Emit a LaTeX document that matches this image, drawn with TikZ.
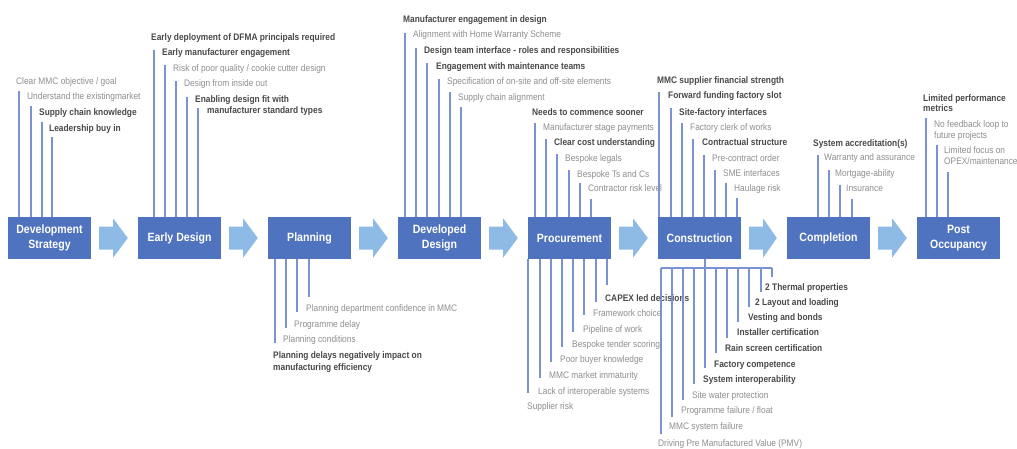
\documentclass[tikz,border=0pt]{standalone}
\usepackage{fontspec}
\setmainfont{Liberation Sans}[FakeStretch=0.88]
\usetikzlibrary{calc}
\definecolor{boxblue}{HTML}{4F73BF}
\definecolor{arrblue}{HTML}{8EBBE6}
\definecolor{lnblue}{HTML}{7B92D2}
\definecolor{txtdark}{HTML}{4A4A4A}
\definecolor{txtlight}{HTML}{8F8F8F}
\newcommand\upit[7]{\node[#6] (#1t#2) at (#4,#5+3.2) {#7}; \draw[ln] (#2,0 |- #1.north) -- (#2,#3);}
\newcommand\dnit[7]{\node[#6] (#1d#2) at (#4,#5+3.2) {#7}; \draw[ln] (#2,0 |- #1.south) -- (#2,#3);}
\newcommand\cbit[6]{\node[#5] (cb#1) at (#3,#4+3.2) {#6}; \draw[ln] (#1,0 |- barL) -- (#1,#2);}
\begin{document}
\begin{tikzpicture}[x=1pt,y=-1pt,
 box/.style={fill=boxblue, text=white, font=\fontsize{12}{15.5}\selectfont\bfseries, minimum width=83pt, minimum height=42pt, inner sep=0pt, align=center},
 arr/.style={fill=arrblue},
 ln/.style={draw=lnblue, line width=1.1pt},
 bt/.style={font=\fontsize{9.5}{11}\selectfont\bfseries, text=txtdark, inner sep=0pt, anchor=base west},
 rt/.style={font=\fontsize{9.5}{11}\selectfont, text=txtlight, inner sep=0pt, anchor=base west}]
\useasboundingbox[fill=white] (0,0) rectangle (1017,448);

% boxes
\node[box] (b1) at (49.5,238) {Development\\Strategy};
\node[box] (b2) at (179.5,238) {Early Design};
\node[box] (b3) at (309.5,238) {Planning};
\node[box] (b4) at (439.5,238) {Developed\\Design};
\node[box] (b5) at (569.5,238) {Procurement};
\node[box] (b6) at (699.5,238) {Construction};
\node[box] (b7) at (828.5,238) {Completion};
\node[box] (b8) at (958.5,238) {Post\\Occupancy};

% arrows
\foreach \a/\b in {b1/b2,b2/b3,b3/b4,b4/b5,b5/b6,b6/b7,b7/b8}{
 \fill[arr] ([xshift=8pt,yshift=11.5pt]\a.east) -- ([xshift=22pt,yshift=11.5pt]\a.east)
  -- ([xshift=22pt,yshift=19.5pt]\a.east) -- ([xshift=-10pt]\b.west)
  -- ([xshift=22pt,yshift=-19.5pt]\a.east) -- ([xshift=22pt,yshift=-11.5pt]\a.east)
  -- ([xshift=8pt,yshift=-11.5pt]\a.east) -- cycle;
}

% Development Strategy
\upit{b1}{19}{91}{16}{81}{rt}{Clear MMC objective / goal}
\upit{b1}{31}{106}{27}{96}{rt}{Understand the existingmarket}
\upit{b1}{42}{122}{39}{112}{bt}{Supply chain knowledge}
\upit{b1}{52}{137}{49}{128}{bt}{Leadership buy in}

% Early Design
\upit{b2}{154}{50}{151}{37}{bt}{Early deployment of DFMA principals required}
\upit{b2}{165}{65}{162}{52}{bt}{Early manufacturer engagement}
\upit{b2}{176}{81}{173}{68}{rt}{Risk of poor quality / cookie cutter design}
\upit{b2}{187}{97}{184}{83}{rt}{Design from inside out}
\upit{b2}{198}{108}{195}{99}{bt}{Enabling design fit with}
\node[bt] (b2t198b) at (207,110+3.2) {manufacturer standard types};

% Developed Design
\upit{b4}{405}{33}{403}{19}{bt}{Manufacturer engagement in design}
\upit{b4}{416}{48}{413}{34}{rt}{Alignment with Home Warranty Scheme}
\upit{b4}{427}{63}{424}{50}{bt}{Design team interface - roles and responsibilities}
\upit{b4}{439}{79}{436}{66}{bt}{Engagement with maintenance teams}
\upit{b4}{450}{92}{447}{81}{rt}{Specification of on-site and off-site elements}
\upit{b4}{461}{107}{458}{97}{rt}{Supply chain alignment}

% Procurement top
\upit{b5}{535}{123}{532}{112}{bt}{Needs to commence sooner}
\upit{b5}{546}{139}{543}{127}{rt}{Manufacturer stage payments}
\upit{b5}{557}{154}{554}{142}{bt}{Clear cost understanding}
\upit{b5}{569}{170}{565}{158}{rt}{Bespoke legals}
\upit{b5}{580}{183}{577}{174}{rt}{Bespoke Ts and Cs}
\upit{b5}{591}{199}{588}{188}{rt}{Contractor risk level}

% Construction top
\upit{b6}{659}{92}{657}{80}{bt}{MMC supplier financial strength}
\upit{b6}{671}{108}{668}{95}{bt}{Forward funding factory slot}
\upit{b6}{682}{123}{679}{112}{bt}{Site-factory interfaces}
\upit{b6}{693}{139}{690}{127}{rt}{Factory clerk of works}
\upit{b6}{704}{155}{702}{142}{bt}{Contractual structure}
\upit{b6}{715}{170}{712}{158}{rt}{Pre-contract order}
\upit{b6}{726}{183}{723}{173}{rt}{SME interfaces}
\upit{b6}{737}{198}{734}{188}{rt}{Haulage risk}

% Completion
\upit{b7}{818}{155}{813}{143}{bt}{System accreditation(s)}
\upit{b7}{829}{170}{824}{157}{rt}{Warranty and assurance}
\upit{b7}{840}{185}{835}{173}{rt}{Mortgage-ability}
\upit{b7}{852}{199}{846}{188}{rt}{Insurance}

% Post Occupancy
\upit{b8}{926}{118}{923}{98}{bt}{Limited performance}
\node[bt] (b8t926b) at (923,108+3.2) {metrics};
\upit{b8}{937}{145}{934}{124}{rt}{No feedback loop to}
\node[rt] (b8t937b) at (934,135+3.2) {future projects};
\upit{b8}{948}{172}{944}{150}{rt}{Limited focus on}
\node[rt] (b8t948b) at (944,161+3.2) {OPEX/maintenance};

% Planning bottom
\dnit{b3}{275}{343}{273}{355}{bt}{Planning delays negatively impact on}
\node[bt] (b3d275b) at (273,367+3.2) {manufacturing efficiency};
\dnit{b3}{286}{328}{283}{339}{rt}{Planning conditions}
\dnit{b3}{297}{312}{294}{324}{rt}{Programme delay}
\dnit{b3}{309}{297}{306}{308}{rt}{Planning department confidence in MMC}

% Procurement bottom
\dnit{b5}{528}{393}{527}{406}{rt}{Supplier risk}
\dnit{b5}{540}{378}{538}{391}{rt}{Lack of interoperable systems}
\dnit{b5}{551}{362}{549}{375}{rt}{MMC market immaturity}
\dnit{b5}{562}{347}{560}{359}{rt}{Poor buyer knowledge}
\dnit{b5}{573}{332}{572}{344}{rt}{Bespoke tender scoring}
\dnit{b5}{584}{315}{583}{329}{rt}{Pipeline of work}
\dnit{b5}{596}{302}{593}{313}{rt}{Framework choice}
\dnit{b5}{607}{285}{605}{298}{bt}{CAPEX led decisions}

% Construction bottom
\coordinate (barL) at (661,268);
\coordinate (barR) at (772,268);
\draw[ln] (705,0 |- b6.south) -- (705,0 |- barL);
\draw[ln] (barL) -- (barR);
\cbit{661}{434}{658}{443}{rt}{Driving Pre Manufactured Value (PMV)}
\cbit{672}{417}{669}{426}{rt}{MMC system failure}
\cbit{683}{400}{681}{410}{rt}{Programme failure / float}
\cbit{694}{384}{692}{395}{rt}{Site water protection}
\cbit{705}{368}{703}{379}{bt}{System interoperability}
\cbit{716}{353}{714}{364}{bt}{Factory competence}
\cbit{727}{338}{725}{348}{bt}{Rain screen certification}
\cbit{738}{322}{737}{332}{bt}{Installer certification}
\cbit{749}{307}{748}{317}{bt}{Vesting and bonds}
\cbit{761}{292}{755}{302}{bt}{2 Layout and loading}
\cbit{772}{277}{765}{287}{bt}{2 Thermal properties}
\end{tikzpicture}
\end{document}
